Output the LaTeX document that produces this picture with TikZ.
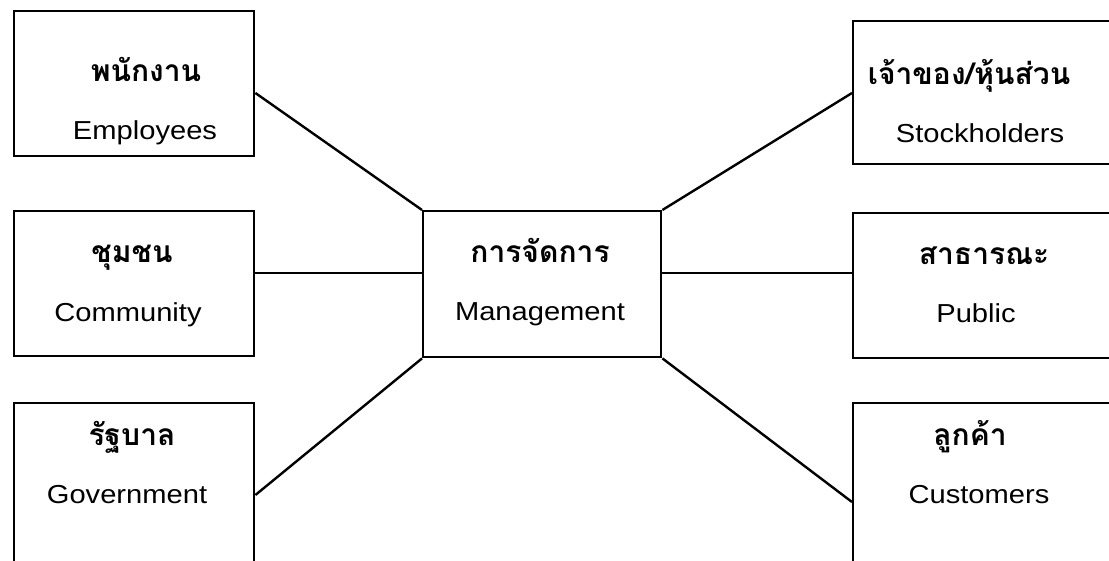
\documentclass[tikz,border=0pt]{standalone}
\usepackage{fontspec}
\setmainfont{Liberation Sans}
\newfontfamily\engfont[FakeStretch=1.12]{Liberation Sans}
\newfontfamily\thaifont[Script=Thai]{Loma}
\usetikzlibrary{calc}
\tikzset{
  box/.style={draw, line width=2.4pt, anchor=north west, inner sep=0pt},
  th/.style={anchor=base, inner sep=0pt, font=\thaifont\bfseries\fontsize{30}{33}\selectfont},
  en/.style={anchor=base, inner sep=0pt, font=\engfont\fontsize{26}{29}\selectfont},
  conn/.style={line width=2.4pt}
}
\begin{document}
\begin{tikzpicture}[x=1pt,y=-1pt]
\useasboundingbox (0,0) rectangle (1109,561);
\clip (0,0) rectangle (1109,561);
% boxes
\node[box, minimum width=240pt, minimum height=145pt] (emp) at (13,10) {};
\node[box, minimum width=240pt, minimum height=145pt] (com) at (13,210) {};
\node[box, minimum width=240pt, minimum height=200pt] (gov) at (13,402) {};
\node[box, minimum width=238pt, minimum height=146pt] (mgt) at (422,210) {};
\node[box, minimum width=280pt, minimum height=143pt] (stk) at (852,20) {};
\node[box, minimum width=280pt, minimum height=145pt] (pub) at (852,212) {};
\node[box, minimum width=280pt, minimum height=200pt] (cus) at (852,402) {};
% texts
\node[th] (empth) at (146,82) {พนักงาน};
\node[en] (empen) at (145,140) {Employees};
\node[th] (comth) at (132,263) {ชุมชน};
\node[en] (comen) at (128,322) {Community};
\node[th] (govth) at (132,445) {รัฐบาล};
\node[en] (goven) at (127,503) {Government};
\node[th] (mgtth) at (540,263) {การจัดการ};
\node[en] (mgten) at (540,321) {Management};
\node[th] (stkth) at (969,85) {เจ้าของ/หุ้นส่วน};
\node[en] (stken) at (980,143) {Stockholders};
\node[th] (pubth) at (984,265) {สาธารณะ};
\node[en] (puben) at (976,323) {Public};
\node[th] (custh) at (970,445) {ลูกค้า};
\node[en] (cusen) at (979,503) {Customers};
% connectors
\draw[conn] ($(emp.north east)+(0,83)$) -- (mgt.north west);
\draw[conn] ($(com.north east)+(0,63)$) -- ($(mgt.north west)+(0,63)$);
\draw[conn] ($(gov.north east)+(0,93)$) -- (mgt.south west);
\draw[conn] ($(stk.north west)+(0,73)$) -- (mgt.north east);
\draw[conn] ($(pub.north west)+(0,61)$) -- ($(mgt.north east)+(0,63)$);
\draw[conn] ($(cus.north west)+(0,100)$) -- (mgt.south east);
\end{tikzpicture}
\end{document}
